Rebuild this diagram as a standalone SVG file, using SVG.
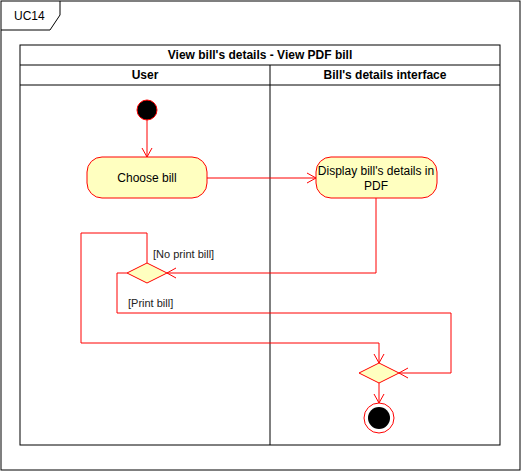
<svg xmlns="http://www.w3.org/2000/svg" width="521" height="471" viewBox="0 0 521 471">
<defs>
<style>
text{font-family:"Liberation Sans",Arial,sans-serif;font-size:12px;fill:#000}
.b{font-weight:bold}
.lbl{font-size:11px;fill:#222}
.frame{fill:none;stroke:#000;stroke-width:1}
.act{fill:#FFFFC0;stroke:#FF0000;stroke-width:1}
.con{fill:none;stroke:#FF0000;stroke-width:1}
</style>
<marker id="arr" markerWidth="12" markerHeight="12" refX="10" refY="6" orient="auto" markerUnits="userSpaceOnUse">
<path d="M1,1 L10,6 L1,11" fill="none" stroke="#FF0000" stroke-width="1"/>
</marker>
</defs>
<rect x="0" y="0" width="521" height="471" fill="#fff"/>
<g id="frame">
<rect class="frame" x="1" y="1" width="519" height="469"/>
<path class="frame" d="M1,30 L50,30 L60,15 L60,1"/>
<text x="14" y="20">UC14</text>
</g>
<g id="pool">
<rect class="frame" x="20" y="45" width="480" height="400"/>
<line class="frame" x1="20" y1="65" x2="500" y2="65"/>
<line class="frame" x1="20" y1="85" x2="500" y2="85"/>
<line class="frame" x1="270" y1="65" x2="270" y2="445"/>
<text class="b" x="260" y="59" text-anchor="middle">View bill's details - View PDF bill</text>
<text class="b" x="145" y="79" text-anchor="middle">User</text>
<text class="b" x="385" y="79" text-anchor="middle">Bill's details interface</text>
</g>
<g id="connectors">
<line class="con" x1="147" y1="120" x2="147" y2="157" marker-end="url(#arr)"/>
<line class="con" x1="207" y1="178" x2="316" y2="178" marker-end="url(#arr)"/>
<polyline class="con" points="376,198 376,273 167,273" marker-end="url(#arr)"/>
<polyline class="con" points="147,263 147,233 81,233 81,343 379,343 379,363" marker-end="url(#arr)"/>
<polyline class="con" points="127,273 117,273 117,313 451,313 451,373 399,373" marker-end="url(#arr)"/>
<line class="con" x1="379" y1="383" x2="379" y2="403" marker-end="url(#arr)"/>
<text class="lbl" x="153" y="258">[No print bill]</text>
<text class="lbl" x="128" y="307">[Print bill]</text>
</g>
<g id="start">
<circle cx="147" cy="110" r="10" fill="#000" stroke="#FF0000"/>
</g>
<g id="choose">
<rect class="act" x="87" y="157" width="120" height="41" rx="15"/>
<text x="147" y="182" text-anchor="middle">Choose bill</text>
</g>
<g id="display">
<rect class="act" x="316" y="157" width="121" height="41" rx="15"/>
<text x="376" y="175" text-anchor="middle">Display bill's details in</text>
<text x="376" y="190" text-anchor="middle">PDF</text>
</g>
<g id="decision">
<polygon class="act" points="147,263 167,273 147,283 127,273"/>
</g>
<g id="merge">
<polygon class="act" points="379,363 399,373 379,383 359,373"/>
</g>
<g id="end">
<circle cx="379" cy="418" r="15" fill="#fff" stroke="#FF0000"/>
<circle cx="379" cy="418" r="11" fill="#000"/>
</g>
</svg>
